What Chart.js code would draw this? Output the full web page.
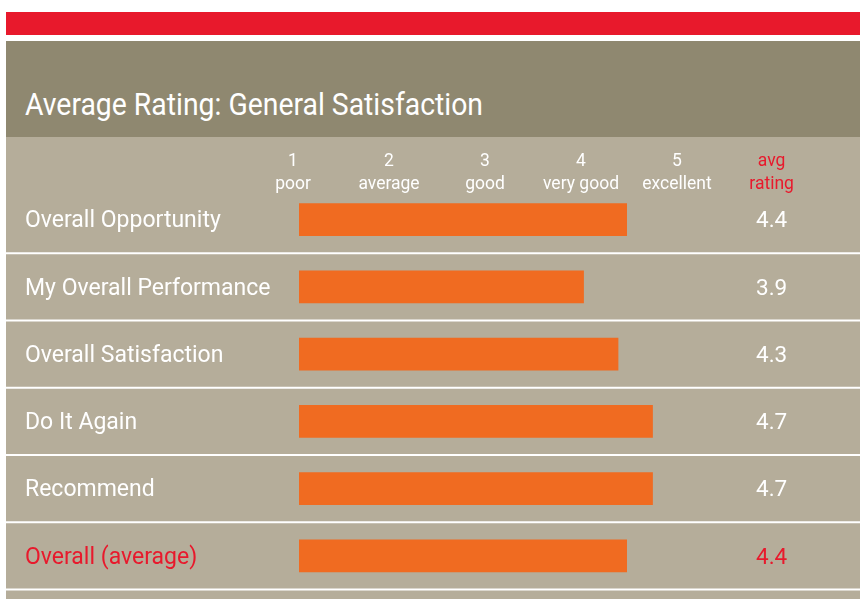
<!DOCTYPE html>
<html>
<head>
<meta charset="utf-8">
<script src="https://cdn.jsdelivr.net/npm/chart.js@4"></script>
<style>
  html, body { margin: 0; padding: 0; background: #fff; width: 860px; height: 599px; overflow: hidden; }
  #redbar { position: absolute; left: 6px; top: 12px; width: 854px; height: 23px; background: #e8192c; }
  #head { position: absolute; left: 6px; top: 41px; width: 854px; height: 96px; background: #8f8870; }
  #title { position: absolute; left: 25px; top: 88px; color: #fff; font: 32px/32px Roboto, sans-serif; white-space: nowrap; transform-origin: 0 0; transform: scaleX(0.886); }
  #wrap { position: absolute; left: 6px; top: 137px; width: 854px; height: 462px; background: #b5ad9a; }
  #ratings { display: block; }
</style>
</head>
<body>
<div id="redbar"></div>
<div id="head"></div>
<div id="title">Average Rating: General Satisfaction</div>
<div id="wrap"><canvas id="ratings" width="854" height="462"></canvas></div>
<script>
const categories = ['Overall Opportunity', 'My Overall Performance', 'Overall Satisfaction', 'Do It Again', 'Recommend', 'Overall (average)'];
const avgRatings = [4.4, 3.9, 4.3, 4.7, 4.7, 4.4];
const scalePoints = [1, 2, 3, 4, 5];
const scaleWords = ['poor', 'average', 'good', 'very good', 'excellent'];
const valueHeader = ['avg', 'rating'];

const WHITE = '#ffffff';
const RED = '#e8192c';
const ORANGE = '#f06b21';
const FONT = 'Roboto';
const HEAD_SIZE = 17.5;
const HEAD_LINE = 23.5;

const isLast = (i) => i === categories.length - 1;

// vertical axes: fixed width and no extra top/bottom padding
const fixWidth = (w) => (scale) => {
    scale.width = w;
    scale.paddingTop = 0;
    scale.paddingBottom = 0;
};

const rowTable = {
    id: 'rowTable',
    beforeDatasetsDraw(chart) {
        // white separators under each row, across the whole panel
        const ctx = chart.ctx;
        const y = chart.scales.y;
        ctx.save();
        ctx.strokeStyle = WHITE;
        ctx.lineWidth = 2;
        for (let i = 0; i < categories.length; i++) {
            const yy = isLast(i) ? y.bottom : (y.getPixelForValue(i) + y.getPixelForValue(i + 1)) / 2;
            ctx.beginPath();
            ctx.moveTo(0, yy);
            ctx.lineTo(chart.width, yy);
            ctx.stroke();
        }
        ctx.restore();
    },
    afterDraw(chart) {
        // column headers: rating scale (from the xTop scale) and the avg rating column
        const ctx = chart.ctx;
        const top = chart.chartArea.top;
        const lineY = (i, n) => top - 1.2 - (n - 1 - i) * HEAD_LINE;
        ctx.save();
        ctx.textAlign = 'center';
        ctx.textBaseline = 'middle';
        ctx.font = HEAD_SIZE + 'px ' + FONT;
        ctx.fillStyle = WHITE;
        const xs = chart.scales.xTop;
        scalePoints.forEach((v, k) => {
            const px = xs.getPixelForValue(v);
            ctx.fillText(String(v), px, lineY(0, 2));
            ctx.fillText(scaleWords[k], px, lineY(1, 2));
        });
        const s = chart.scales.yVal;
        ctx.font = s.options.ticks.font.size + 'px ' + FONT;
        const w = Math.max(...s.ticks.map(t => ctx.measureText(t.label).width));
        const x = s.left + s.options.ticks.padding + w / 2;
        ctx.font = HEAD_SIZE + 'px ' + FONT;
        ctx.fillStyle = RED;
        valueHeader.forEach((t, i) => ctx.fillText(t, x, lineY(i, valueHeader.length)));
        ctx.restore();
    }
};

new Chart(document.getElementById('ratings'), {
    type: 'bar',
    data: {
        labels: categories,
        datasets: [{
            data: avgRatings,
            backgroundColor: ORANGE,
            barThickness: 32,
            xAxisID: 'x',
            yAxisID: 'y'
        }]
    },
    options: {
        indexAxis: 'y',
        responsive: false,
        animation: false,
        layout: { padding: { left: 19, right: 0, top: 49, bottom: 9.5 } },
        plugins: { legend: { display: false }, tooltip: { enabled: false } },
        scales: {
            x: { display: false, min: 0.6, max: 5.32 },
            xTop: { type: 'linear', position: 'top', display: false, min: 1.0625, max: 5.302 },
            y: {
                position: 'left',
                grid: { display: false, drawTicks: false },
                border: { display: false },
                afterFit: fixWidth(274),
                ticks: {
                    crossAlign: 'far',
                    padding: 0,
                    labelOffset: 2,
                    font: { family: FONT, size: 23 },
                    color: (c) => isLast(c.index) ? RED : WHITE
                }
            },
            yVal: {
                type: 'category',
                position: 'right',
                labels: avgRatings.map(v => v.toFixed(1)),
                offset: true,
                grid: { display: false, drawTicks: false },
                border: { display: false },
                afterFit: fixWidth(154),
                ticks: {
                    crossAlign: 'center',
                    padding: 50,
                    labelOffset: 2,
                    font: { family: FONT, size: 22.5 },
                    color: (c) => isLast(c.index) ? RED : WHITE
                }
            }
        }
    },
    plugins: [rowTable]
});
</script>
</body>
</html>
